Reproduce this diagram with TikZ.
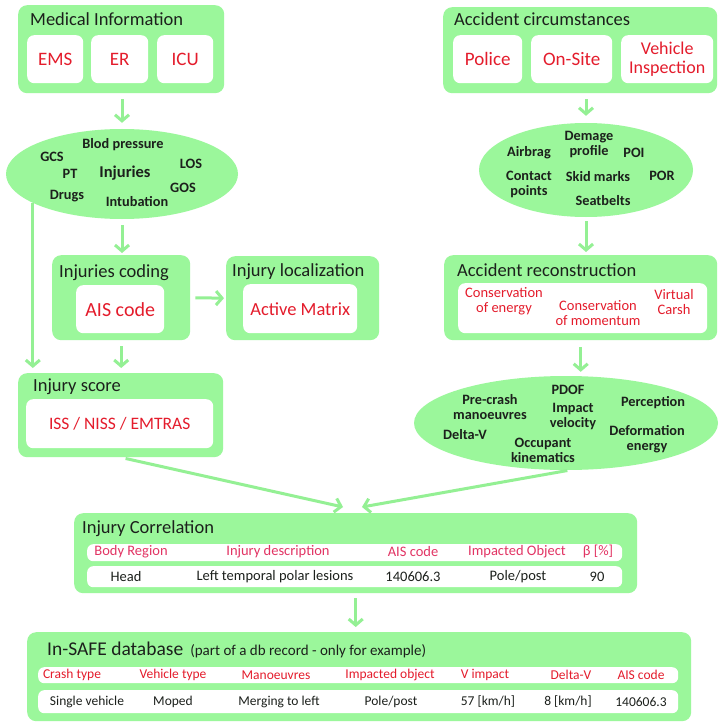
\documentclass[tikz,border=0pt]{standalone}
\usepackage{fontspec}
\setmainfont{Carlito}
\usetikzlibrary{shapes.geometric,arrows.meta}
\definecolor{pgreen}{RGB}{155,247,155}
\definecolor{agreen}{RGB}{148,240,148}
\definecolor{tdark}{RGB}{28,32,28}
\definecolor{rlab}{RGB}{228,28,44}
\definecolor{plab}{RGB}{226,52,100}
\begin{document}
\begin{tikzpicture}[x=1pt,y=-1pt,
  panel/.style={fill=pgreen, rounded corners=9pt, inner sep=0pt, anchor=north west},
  wbox/.style={fill=white, rounded corners=7pt, inner sep=0pt, anchor=north west},
  ell/.style={ellipse, fill=pgreen, inner sep=0pt},
  arr/.style={draw=agreen, line width=3pt, -{Straight Barb[length=6pt,width=14pt]}},
  ttl/.style={anchor=base west, font=\fontsize{18.5}{20}\selectfont, text=tdark, inner sep=0pt},
  lbl/.style={text=rlab, font=\fontsize{19}{19.5}\selectfont, align=center},
  et/.style={font=\bfseries\fontsize{14.3}{15}\selectfont, text=tdark, align=center, inner sep=0pt},
  rt/.style={font=\fontsize{14.5}{15}\selectfont, text=rlab, align=center, inner sep=0pt},
  th/.style={font=\fontsize{14.5}{15}\selectfont, text=plab, inner sep=0pt},
  td/.style={font=\fontsize{14.5}{15}\selectfont, text=tdark, inner sep=0pt},
  dh/.style={font=\fontsize{13.5}{15}\selectfont, text=rlab, inner sep=0pt},
  dd/.style={font=\fontsize{13.5}{15}\selectfont, text=tdark, inner sep=0pt}]
\fill[white] (0,0) rectangle (718,722);
\useasboundingbox (0,0) rectangle (718,722);

% Medical Information
\node[panel, minimum width=206pt, minimum height=88pt] (p1) at (18,5) {};
\node[ttl] (p1t) at (30,26) {Medical Information};
\node[wbox, lbl, minimum width=56pt, minimum height=48pt] (ems) at (27,35) {EMS};
\node[wbox, lbl, minimum width=57pt, minimum height=48pt] (er) at (91,35) {ER};
\node[wbox, lbl, minimum width=56pt, minimum height=48pt] (icu) at (157,35) {ICU};

% Accident circumstances
\node[panel, minimum width=274pt, minimum height=86pt] (p2) at (443,7) {};
\node[ttl] (p2t) at (454,26) {Accident circumstances};
\node[wbox, lbl, minimum width=69pt, minimum height=48pt] (pol) at (453,35) {Police};
\node[wbox, lbl, minimum width=81pt, minimum height=48pt] (ons) at (531,35) {On-Site};
\node[wbox, lbl, font=\fontsize{18}{19}\selectfont, minimum width=92pt, minimum height=48pt] (vin) at (621,35) {Vehicle\\Inspection};

% Ellipse 1
\node[ell, minimum width=232pt, minimum height=90pt] (e1) at (122,174) {};
\node[et] (a1) at (123,145) {Blod pressure};
\node[et] (a2) at (52,157) {GCS};
\node[et] (a3) at (70,174) {PT};
\node[et, font=\bfseries\fontsize{16.5}{17}\selectfont] (a4) at (125,173) {Injuries};
\node[et] (a5) at (191,164) {LOS};
\node[et] (a6) at (183,188) {GOS};
\node[et] (a7) at (67,196) {Drugs};
\node[et] (a8) at (137,202) {Intubation};

% Ellipse 2
\node[ell, minimum width=214pt, minimum height=94pt] (e2) at (586,170) {};
\node[et] (b1) at (589,144) {Demage\\profile};
\node[et] (b2) at (529,153) {Airbrag};
\node[et] (b3) at (634,153) {POI};
\node[et] (b4) at (529,184) {Contact\\points};
\node[et] (b5) at (598,177) {Skid marks};
\node[et] (b6) at (662,176) {POR};
\node[et] (b7) at (603,201) {Seatbelts};

% Injuries coding / localization / score
\node[panel, minimum width=138pt, minimum height=85pt] (code) at (52,255) {};
\node[ttl] (codet) at (59,277) {Injuries coding};
\node[wbox, lbl, font=\fontsize{20}{20}\selectfont, minimum width=88pt, minimum height=48pt] (ais) at (76,285) {AIS code};
\node[panel, minimum width=153pt, minimum height=84pt] (loc) at (226,256) {};
\node[ttl] (loct) at (232,276) {Injury localization};
\node[wbox, lbl, font=\fontsize{18.5}{19}\selectfont, minimum width=114pt, minimum height=49pt] (am) at (243,284) {Active Matrix};
\node[panel, minimum width=205pt, minimum height=84pt] (score) at (18,373) {};
\node[ttl] (scoret) at (33,391) {Injury score};
\node[wbox, lbl, font=\fontsize{17.5}{18}\selectfont, minimum width=187pt, minimum height=49pt] (iss) at (26,399) {ISS / NISS / EMTRAS};

% Accident reconstruction
\node[panel, minimum width=273pt, minimum height=85pt] (recon) at (444,255) {};
\node[ttl] (recont) at (457,276) {Accident reconstruction};
\node[wbox, minimum width=249pt, minimum height=50pt] (reconw) at (458,283) {};
\node[rt] (r1) at (504,301) {Conservation\\of energy};
\node[rt] (r2) at (598,313) {Conservation\\of momentum};
\node[rt] (r3) at (674,302) {Virtual\\Carsh};

% Ellipse 3
\node[ell, minimum width=304pt, minimum height=94pt] (e3) at (566,423) {};
\node[et] (c1) at (568,390) {PDOF};
\node[et] (c2) at (490,407) {Pre-crash\\manoeuvres};
\node[et] (c3) at (573,416) {Impact\\velocity};
\node[et] (c4) at (653,403) {Perception};
\node[et] (c5) at (465,435) {Delta-V};
\node[et] (c6) at (647,439) {Deformation\\energy};
\node[et] (c7) at (543,450) {Occupant\\kinematics};

% Injury Correlation
\node[panel, minimum width=563pt, minimum height=80pt] (corr) at (74,513) {};
\node[ttl] (corrt) at (82,533) {Injury Correlation};
\node[wbox, rounded corners=6pt, minimum width=535pt, minimum height=17pt] (corrh) at (87,544) {};
\node[wbox, rounded corners=6pt, minimum width=535pt, minimum height=21pt] (corrd) at (87,566) {};
\node[th] (h1) at (131,552) {Body Region};
\node[th] (h2) at (278,552) {Injury description};
\node[th] (h3) at (413,552) {AIS code};
\node[th] (h4) at (517,552) {Impacted Object};
\node[th] (h5) at (598,552) {β [\%]};
\node[td] (d1) at (126,577) {Head};
\node[td] (d2) at (275,577) {Left temporal polar lesions};
\node[td] (d3) at (413,577) {140606.3};
\node[td] (d4) at (518,577) {Pole/post};
\node[td] (d5) at (597,577) {90};

% In-SAFE database
\node[panel, minimum width=664pt, minimum height=89pt] (db) at (27,632) {};
\node[ttl, font=\fontsize{19.5}{20}\selectfont] (dbt) at (47,655) {In-SAFE database\hspace{7pt}{\fontsize{15}{16}\selectfont(part of a db record - only for example)}};
\node[wbox, rounded corners=6pt, minimum width=640pt, minimum height=16pt] (dbh) at (38,667) {};
\node[wbox, rounded corners=6pt, minimum width=640pt, minimum height=23pt] (dbd) at (38,690) {};
\node[dh] (g1) at (72,675) {Crash type};
\node[dh] (g2) at (173,675) {Vehicle type};
\node[dh] (g3) at (276,675) {Manoeuvres};
\node[dh] (g4) at (390,675) {Impacted object};
\node[dh] (g5) at (485,675) {V impact};
\node[dh] (g6) at (571,675) {Delta-V};
\node[dh] (g7) at (641,675) {AIS code};
\node[dd] (k1) at (87,702) {Single vehicle};
\node[dd] (k2) at (173,702) {Moped};
\node[dd] (k3) at (279,702) {Merging to left};
\node[dd] (k4) at (391,702) {Pole/post};
\node[dd] (k5) at (488,702) {57 [km/h]};
\node[dd] (k6) at (568,702) {8 [km/h]};
\node[dd] (k7) at (641,702) {140606.3};

% connectors
\coordinate (cl) at (343,507);
\coordinate (cr) at (362,507);
\draw[arr, shorten <=6pt, shorten >=6pt] (e1.north |- p1.south) -- (e1.north);
\draw[arr, shorten <=6pt, shorten >=7pt] (e2.north |- p2.south) -- (e2.north);
\draw[arr, shorten <=6pt, shorten >=2pt] (e1.south) -- (e1.south |- code.north);
\draw[arr, shorten <=5pt, shorten >=2pt] (code.east) -- (loc.west);
\draw[arr, shorten <=6pt, shorten >=5pt] (code.south) -- (code.south |- score.north);
\draw[arr, shorten >=5pt] (e1.198) -- (e1.198 |- score.north);
\draw[arr, shorten <=4pt, shorten >=3pt] (e2.south) -- (e2.south |- recon.north);
\draw[arr, shorten <=7pt, shorten >=4pt] (recon.south) -- (recon.south |- e3.north);
\draw[arr, shorten <=5pt] (score.south) -- (cl);
\draw[arr, shorten <=2pt] (e3.-86) -- (cr);
\draw[arr, shorten <=5pt, shorten >=5pt] (corr.south) -- (corr.south |- db.north);
\end{tikzpicture}
\end{document}
